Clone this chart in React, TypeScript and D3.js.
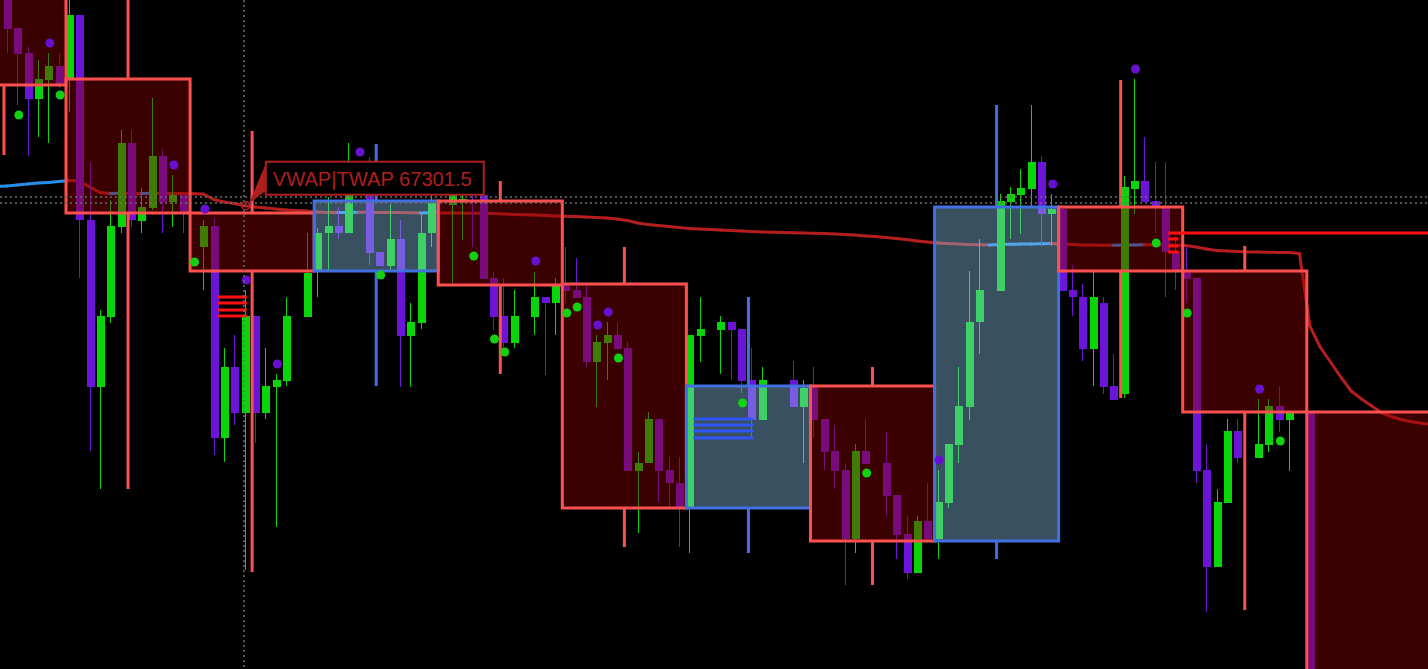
import React, { useEffect, useRef } from "react";
import * as d3 from "d3";

const WIDTH = 1428;
const HEIGHT = 669;

// 5m candles [open, high, low, close]; index -6 .. 120, null = no print
const CANDLE_START = -6;
const candles: ([number, number, number, number] | null)[] = [
  [68355, 68380, 68065, 68185],
  [68190, 68190, 67805, 68060],
  [68065, 68095, 67550, 67835],
  [67835, 68030, 67645, 67935],
  [67930, 68065, 67615, 68000],
  [68000, 68065, 67890, 67910],
  [67930, 68355, 67770, 68255], // 0
  [68255, 68255, 66940, 67230],
  [67230, 67520, 66075, 66395],
  [66395, 66780, 65885, 66750],
  [66745, 67330, 66715, 67200],
  [67195, 67680, 67165, 67615],
  [67615, 67680, 67195, 67230],
  [67225, 67390, 67165, 67295],
  [67290, 67840, 67280, 67550],
  [67550, 67585, 67165, 67320],
  [67320, 67455, 67195, 67355],
  [67355, 67370, 67165, 67265],
  null, // 12
  [67095, 67230, 66880, 67200],
  [67200, 67240, 66055, 66140],
  [66140, 66590, 66020, 66495],
  [66495, 66655, 66205, 66265],
  [66265, 66880, 65480, 66750],
  [66750, 66750, 66115, 66265],
  [66265, 66590, 66235, 66400],
  [66395, 66460, 65695, 66430],
  [66425, 66845, 66400, 66750],
  null,
  [66745, 67165, 66745, 66965],
  [66975, 67190, 66845, 67165], // 24
  [67165, 67345, 66980, 67200],
  [67200, 67295, 67135, 67165],
  [67165, 67615, 67165, 67355],
  null,
  [67355, 67545, 67005, 67065],
  [67070, 67070, 67000, 67000],
  [67000, 67310, 66980, 67135],
  [67135, 67230, 66395, 66650],
  [66650, 66815, 66395, 66720],
  [66715, 67265, 66685, 67165],
  [67165, 67355, 67095, 67315],
  null, // 36
  [67305, 67365, 66915, 67355],
  [67330, 67355, 67130, 67335],
  [67330, 67355, 67095, 67325],
  [67355, 67365, 66935, 66935],
  [66940, 66970, 66680, 66745],
  [66750, 66940, 66590, 66615],
  [66615, 66880, 66590, 66750],
  null,
  [66745, 66970, 66655, 66845],
  [66845, 66845, 66455, 66815],
  [66815, 66940, 66655, 66900],
  [66905, 67095, 66815, 66875], // 48
  [66880, 67040, 66840, 66840],
  [66845, 66905, 66495, 66520],
  [66520, 66655, 66295, 66620],
  [66615, 66720, 66430, 66655],
  [66655, 66720, 66580, 66585],
  [66590, 66620, 65975, 65975],
  [65975, 66070, 65665, 66015],
  [66015, 66270, 66015, 66235],
  [66235, 66235, 65820, 65975],
  [65980, 66045, 65795, 65915],
  [65915, 66045, 65595, 65795],
  [65790, 66655, 65565, 66655], // 60
  [66650, 66845, 66520, 66685],
  null,
  [66680, 66750, 66460, 66720],
  [66720, 66720, 66430, 66680],
  [66685, 66685, 66365, 66425],
  [66430, 66590, 66140, 66230],
  [66230, 66495, 66230, 66430],
  null,
  null,
  [66430, 66525, 66295, 66295],
  [66295, 66430, 66015, 66390],
  [66395, 66495, 66140, 66230], // 72
  [66235, 66235, 65980, 66070],
  [66075, 66205, 65885, 65975],
  [65980, 66015, 65405, 65635],
  [65635, 66110, 65565, 66075],
  [66075, 66235, 66010, 66010],
  null,
  [66015, 66170, 65750, 65850],
  [65855, 65855, 65535, 65655],
  [65660, 65750, 65435, 65465],
  [65465, 65750, 65465, 65725],
  [65725, 65915, 65625, 65635],
  [65635, 65980, 65535, 65820], // 84
  [65815, 66110, 65790, 66110],
  [66105, 66495, 66015, 66300],
  [66295, 66975, 66230, 66720],
  [66720, 67135, 66560, 66880],
  null,
  [66875, 67360, 66875, 67325],
  [67320, 67395, 67135, 67360],
  [67355, 67485, 67160, 67390],
  [67385, 67805, 67300, 67520],
  [67520, 67550, 67100, 67260],
  [67260, 67360, 67100, 67285],
  [67285, 67295, 66875, 66875], // 96
  [66880, 67005, 66750, 66845],
  [66845, 66910, 66525, 66585],
  [66585, 66975, 66400, 66845],
  [66815, 66845, 66360, 66395],
  [66400, 66560, 66330, 66330],
  [66360, 67450, 66340, 67395],
  [67385, 67935, 67260, 67425],
  [67425, 67645, 67320, 67320],
  [67325, 67520, 67165, 67300],
  [67295, 67520, 66845, 67070],
  [67070, 67150, 66880, 66980],
  [66970, 67095, 66815, 66935], // 108
  [66940, 66940, 65915, 65975],
  [65980, 66110, 65270, 65495],
  [65495, 65885, 65495, 65820],
  [65815, 66235, 65815, 66175],
  [66175, 66235, 66015, 66040],
  null,
  [66040, 66335, 66040, 66110],
  [66105, 66335, 66070, 66300],
  [66300, 66400, 66170, 66230],
  [66230, 66265, 65975, 66265],
  null,
  [66270, 66270, 64830, 64830], // 120
];

// 1h candles (12 bars each) [open, high, low, close]; index -1 .. 10
const HTF_START = -1;
const HTF_BARS = 12;
const htfCandles: [number, number, number, number][] = [
  [68480, 68630, 67555, 67905],
  [67935, 68430, 65885, 67265],
  [67265, 67675, 65470, 66975],
  [66975, 67610, 66400, 67325],
  [67325, 67425, 66460, 66905],
  [66910, 67095, 65595, 65790],
  [65790, 66845, 65565, 66400],
  [66400, 66495, 65405, 65625],
  [65625, 67805, 65535, 67295],
  [67295, 67930, 66340, 66975],
  [66975, 67100, 65280, 66270],
  [66270, 66270, 64730, 64730],
];

// VWAP|TWAP per bar; index -7 .. 132 (projection past the last bar)
const VWAP_START = -7;
const vwap: number[] = [
  67397.5, 67400, 67405, 67410, 67415, 67417.5, 67422.5, 67427.5, 67425, 67395,
  67367.5, 67362.5, 67364, 67363, 67362, 67363.5, 67363, 67362.5, 67362, 67361.5,
  67360, 67332.5, 67320, 67312.5, 67301.5, 67295, 67290, 67285, 67280, 67277.5,
  67275, 67270, 67267.5, 67267, 67268, 67269, 67268.5, 67268, 67267.5, 67267,
  67266, 67265, 67266, 67265.5, 67265, 67264.5, 67264, 67263.5, 67262.5, 67260,
  67257.5, 67256, 67255, 67252.5, 67250, 67249, 67247.5, 67245, 67242.5, 67240,
  67235, 67227.5, 67215, 67207.5, 67202.5, 67197.5, 67192.5, 67187.5, 67185, 67182.5,
  67180, 67177.5, 67175, 67172.5, 67170, 67168.5, 67167.5, 67166.5, 67165, 67164,
  67162.5, 67160, 67157.5, 67155, 67150, 67147.5, 67142.5, 67137.5, 67132.5, 67125,
  67120, 67115, 67112.5, 67110, 67107.5, 67106.5, 67105, 67107, 67108.5, 67109.5,
  67110, 67111, 67112.5, 67110, 67107.5, 67105, 67104.5, 67104, 67103.5, 67104.5,
  67105.5, 67106.5, 67106, 67105, 67104, 67102.5, 67095, 67085, 67077.5, 67075,
  67072.5, 67070, 67069.5, 67069, 67068, 67067.5, 67062.5, 66700, 66595, 66520,
  66445, 66375, 66335, 66300, 66265, 66245, 66230, 66220, 66212.5, 66207.5,
];

// pivot markers [bar index, price]
const purpleDots: [number, number][] = [
  [-2, 68115], [10, 67505], [13, 67285], [17, 66930], [20, 66510], [28, 67570],
  [45, 67025], [51, 66705], [52, 66770], [84, 66030], [95, 67410], [103, 67985],
  [115, 66385],
];
const greenDots: [number, number][] = [
  [-5, 67755], [-1, 67855], [12, 67020], [30, 66955], [39, 67050], [41, 66635],
  [42, 66570], [48, 66765], [49, 66795], [53, 66540], [65, 66315], [77, 65965],
  [105, 67115], [108, 66765], [117, 66125],
];

// liquidity levels
const redStackLeft = { from: 14.4, to: 17.2, prices: [66845, 66815, 66780, 66750] };
const redStackRight = { from: 106.3, to: 107.3, prices: [67135, 67100, 67070] };
const redLongLevel = { from: 106.3, to: 132, price: 67165 };
const blueStack = { from: 60.4, to: 66.2, prices: [66235, 66205, 66175, 66140] };

// crosshair
const crossIndex = 16.92;
const crossPrices = [67345, 67315];
const labelIndex = 17;

const BULL = "#0ad40a";
const BEAR = "#6c14d8";

export default function App() {
  const svgRef = useRef<SVGSVGElement>(null);

  useEffect(() => {
    if (!svgRef.current) return;
    document.body.style.margin = "0";
    document.body.style.background = "#000";

    const svg = d3.select(svgRef.current);
    svg.selectAll("*").remove();

    const x = d3.scaleLinear().domain([0, 120]).range([69, 69 + 1240.8]);
    const y = d3.scaleLinear().domain([68330, 64985]).range([0, HEIGHT]);

    svg.append("rect").attr("width", WIDTH).attr("height", HEIGHT).attr("fill", "#000");

    // VWAP line: blue while rising, red while falling
    const vg = svg.append("g");
    const line = d3
      .line<[number, number]>()
      .x((d) => x(d[0]))
      .y((d) => y(d[1]));
    for (let j = 1; j < vwap.length; j++) {
      const up = vwap[j] > vwap[j - 1];
      vg.append("path")
        .datum([
          [VWAP_START + j - 1, vwap[j - 1]],
          [VWAP_START + j, vwap[j]],
        ] as [number, number][])
        .attr("d", line)
        .attr("fill", "none")
        .attr("stroke", up ? "#2a8ee8" : "#b41e1e")
        .attr("stroke-width", 3)
        .attr("stroke-linecap", "round");
    }

    // candles
    const cg = svg.append("g").attr("shape-rendering", "crispEdges");
    candles.forEach((c, k) => {
      if (!c) return;
      const i = CANDLE_START + k;
      const [o, h, l, cl] = c;
      const col = cl >= o ? BULL : BEAR;
      const cx = Math.round(x(i));
      cg.append("line")
        .attr("x1", cx + 0.5)
        .attr("x2", cx + 0.5)
        .attr("y1", y(h))
        .attr("y2", y(l))
        .attr("stroke", col)
        .attr("stroke-width", 1);
      const top = y(Math.max(o, cl));
      const bot = y(Math.min(o, cl));
      cg.append("rect")
        .attr("x", cx - 3.5)
        .attr("width", 8)
        .attr("y", top)
        .attr("height", Math.max(1.5, bot - top))
        .attr("fill", col);
    });

    // higher timeframe boxes
    const hg = svg.append("g");
    htfCandles.forEach((c, k) => {
      const idx = HTF_START + k;
      const [o, , , cl] = c;
      const bull = cl > o;
      const x0 = x(idx * HTF_BARS) - 3;
      const x1 = x((idx + 1) * HTF_BARS) - 3;
      const top = y(Math.max(o, cl));
      const bot = y(Math.min(o, cl));
      hg.append("rect")
        .attr("x", x0)
        .attr("y", top)
        .attr("width", x1 - x0)
        .attr("height", bot - top)
        .attr("fill", bull ? "rgba(140,200,240,0.4)" : "rgba(140,0,0,0.42)");
    });
    htfCandles.forEach((c, k) => {
      const idx = HTF_START + k;
      const [o, h, l, cl] = c;
      const bull = cl > o;
      const stroke = bull ? "#4270e0" : "#ff5050";
      const x0 = x(idx * HTF_BARS) - 3;
      const x1 = x((idx + 1) * HTF_BARS) - 3;
      const mid = (x0 + x1) / 2;
      const top = y(Math.max(o, cl));
      const bot = y(Math.min(o, cl));
      hg.append("line").attr("x1", mid).attr("x2", mid).attr("y1", y(h)).attr("y2", top)
        .attr("stroke", stroke).attr("stroke-width", 3);
      hg.append("line").attr("x1", mid).attr("x2", mid).attr("y1", bot).attr("y2", y(l))
        .attr("stroke", stroke).attr("stroke-width", 3);
      hg.append("rect")
        .attr("x", x0)
        .attr("y", top)
        .attr("width", x1 - x0)
        .attr("height", bot - top)
        .attr("fill", "none")
        .attr("stroke", stroke)
        .attr("stroke-width", 3);
    });

    // levels
    const lg = svg.append("g");
    const stack = (s: { from: number; to: number; prices: number[] }, col: string) =>
      s.prices.forEach((p) =>
        lg.append("line")
          .attr("x1", x(s.from)).attr("x2", x(s.to))
          .attr("y1", y(p)).attr("y2", y(p))
          .attr("stroke", col).attr("stroke-width", 3)
      );
    stack(redStackLeft, "#ff1010");
    stack(redStackRight, "#ff1010");
    stack(blueStack, "#3054f8");
    lg.append("line")
      .attr("x1", x(redLongLevel.from)).attr("x2", x(redLongLevel.to))
      .attr("y1", y(redLongLevel.price)).attr("y2", y(redLongLevel.price))
      .attr("stroke", "#ff1010").attr("stroke-width", 3);

    // pivot dots
    const dg = svg.append("g");
    purpleDots.forEach(([i, p]) =>
      dg.append("circle").attr("cx", x(i) + 1.5).attr("cy", y(p)).attr("r", 4.5).attr("fill", "#6810d0")
    );
    greenDots.forEach(([i, p]) =>
      dg.append("circle").attr("cx", x(i) + 1.5).attr("cy", y(p)).attr("r", 4.5).attr("fill", "#12d012")
    );

    // crosshair
    const xg = svg.append("g").attr("stroke", "#6e6e6e").attr("stroke-width", 1.5).attr("stroke-dasharray", "2,3");
    xg.append("line").attr("x1", x(crossIndex)).attr("x2", x(crossIndex)).attr("y1", 0).attr("y2", HEIGHT);
    crossPrices.forEach((p) =>
      xg.append("line").attr("x1", 0).attr("x2", WIDTH).attr("y1", y(p)).attr("y2", y(p))
    );

    // VWAP label
    const lv = vwap[labelIndex - VWAP_START];
    const ax = x(labelIndex) + 1;
    const ay = y(lv);
    const lab = svg.append("g");
    const labCol = "#b01e1e";
    lab.append("circle").attr("cx", ax).attr("cy", ay).attr("r", 4)
      .attr("fill", "none").attr("stroke", labCol).attr("stroke-width", 1.5);
    lab.append("polygon")
      .attr("points", `${ax + 20},${ay - 42} ${ax + 20},${ay - 15} ${ax + 3},${ay - 2}`)
      .attr("fill", labCol);
    lab.append("rect")
      .attr("x", ax + 20).attr("y", ay - 44).attr("width", 218).attr("height", 33)
      .attr("fill", "#000").attr("stroke", labCol).attr("stroke-width", 2);
    lab.append("text")
      .attr("x", ax + 27).attr("y", ay - 20)
      .attr("fill", labCol)
      .attr("font-family", "'Liberation Sans', Arial, sans-serif")
      .attr("font-size", 21)
      .attr("textLength", 199)
      .attr("lengthAdjust", "spacingAndGlyphs")
      .text(`VWAP|TWAP ${lv.toFixed(1)}`);
  }, []);

  return (
    <div style={{ position: "fixed", left: 0, top: 0, width: WIDTH, height: HEIGHT, background: "#000" }}>
      <svg ref={svgRef} width={WIDTH} height={HEIGHT} style={{ display: "block" }} />
    </div>
  );
}
